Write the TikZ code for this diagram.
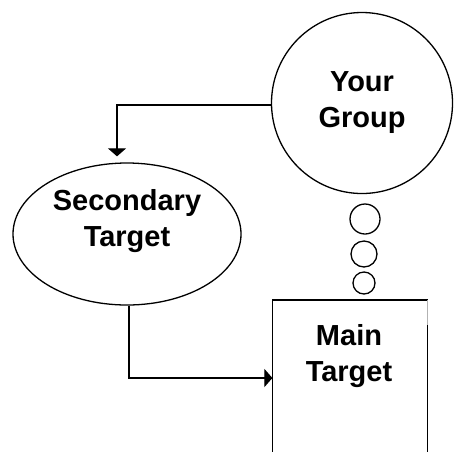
\documentclass[tikz,border=0pt]{standalone}
\usepackage{fontspec}
\setmainfont{Liberation Sans}
\usetikzlibrary{shapes.geometric,arrows.meta,calc}
\begin{document}
\begin{tikzpicture}[x=1pt,y=-1pt,
  line width=1.2pt,
  lbl/.style={font=\fontsize{29}{36}\selectfont\bfseries, align=center, inner sep=0pt},
  conn/.style={line width=1.1pt, -{Triangle[width=18pt,length=8pt]}},
  bubble/.style={circle, draw, line width=1.3pt, inner sep=0pt}]
\useasboundingbox (0,0) rectangle (454,451);
\clip (0,0) rectangle (454,451);
% big circle
\node[bubble, minimum size=181pt, lbl] (grp) at (362,103) {Your\\Group};
% ellipse
\node[ellipse, draw, line width=1.3pt, minimum width=228pt, minimum height=142pt, inner sep=0pt] (sec) at (127,234) {};
\node[lbl] (sectext) at (127,221) {Secondary\\Target};
% thought bubbles
\node[bubble, minimum size=30pt] (b1) at (365,219) {};
\node[bubble, minimum size=26pt] (b2) at (364,254) {};
\node[bubble, minimum size=22pt] (b3) at (364,283) {};
% main target box (open at bottom)
\node[minimum width=154pt, minimum height=200pt, anchor=north, inner sep=0pt] (mainbox) at (350,300) {};
\node[lbl] (maintext) at (349,356) {Main\\Target};
\draw[line width=1.1pt] (mainbox.south west) -- (mainbox.north west);
\draw[line width=1.8pt] (mainbox.north west) -- (mainbox.north east);
\coordinate (rgap) at ($(mainbox.north east)+(0,25)$);
\draw[line width=0.6pt, gray!60] (mainbox.north east) -- (rgap);
\draw[line width=1.1pt] (rgap) -- (mainbox.south east);
% connectors
\coordinate (e1) at (117,105);
\draw[conn, shorten >=6pt] (grp.west |- e1) -- (e1) -- (e1 |- sec.north);
\coordinate (e2) at (129,378);
\draw[conn] (e2 |- sec.south) -- (e2) -- (e2 -| mainbox.west);
\end{tikzpicture}
\end{document}
